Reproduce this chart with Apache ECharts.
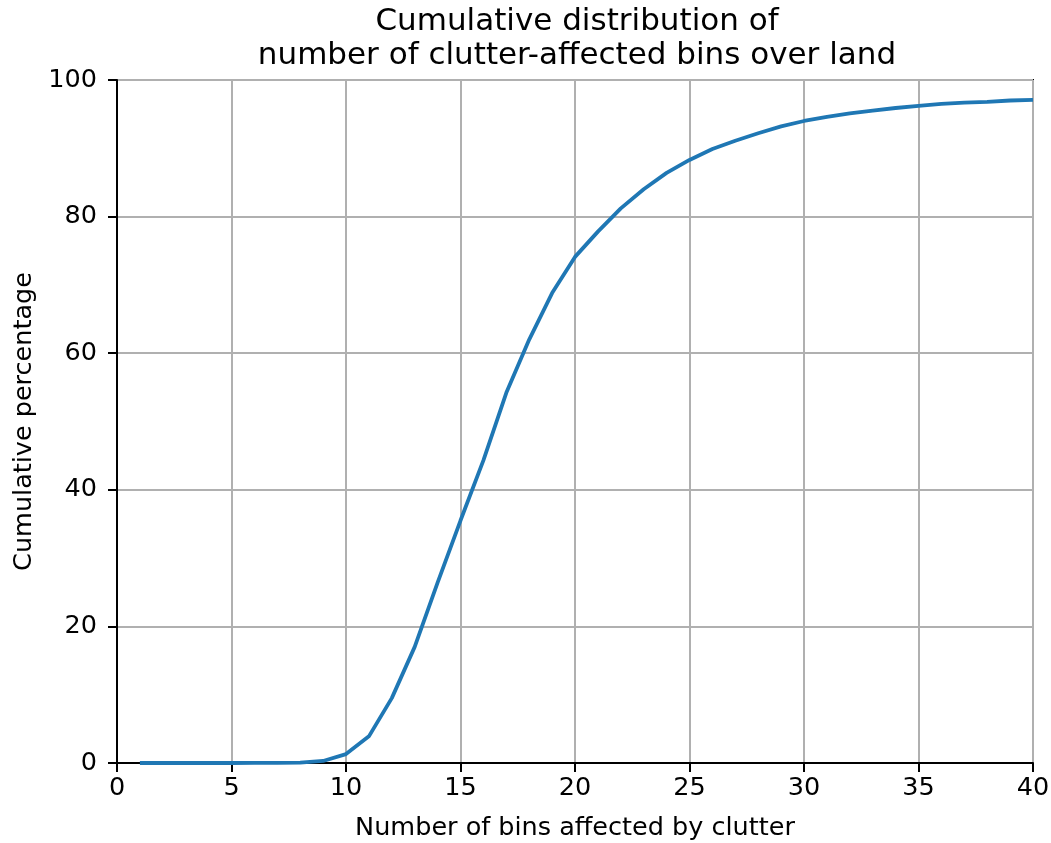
<!DOCTYPE html>
<html>
<head>
<meta charset="utf-8">
<script src="https://cdn.jsdelivr.net/npm/echarts@6/dist/echarts.min.js"></script>
<style>
  html, body { margin: 0; padding: 0; background: #fff; }
  #chart { width: 1051px; height: 843px; }
</style>
</head>
<body>
<div id="chart"></div>
<script>
// Number of clutter-affected bins (x) and cumulative percentage (y)
const binCounts = [1, 2, 3, 4, 5, 6, 7, 8, 9, 10,
                   11, 12, 13, 14, 15, 16, 17, 18, 19, 20,
                   21, 22, 23, 24, 25, 26, 27, 28, 29, 30,
                   31, 32, 33, 34, 35, 36, 37, 38, 39, 40];
const cumulativePct = [0, 0, 0, 0, 0, 0.01, 0.02, 0.05, 0.3, 1.3,
                       3.9, 9.5, 17.0, 26.4, 35.5, 44.3, 54.2, 62.0, 68.8, 74.1,
                       77.8, 81.2, 84.0, 86.4, 88.3, 89.9, 91.1, 92.2, 93.2, 94.0,
                       94.6, 95.1, 95.5, 95.9, 96.2, 96.5, 96.7, 96.8, 97.0, 97.1];
const xTicks = [0, 5, 10, 15, 20, 25, 30, 35, 40];
const yTicks = [0, 20, 40, 60, 80, 100];

const FONT = 'DejaVu Sans';
const LABEL_SIZE = 25.5;
const chart = echarts.init(document.getElementById('chart'), null, { renderer: 'canvas' });

const axisCommon = {
  axisLine: { show: true, lineStyle: { color: '#000', width: 2 } },
  axisTick: { show: true, inside: false, length: 9, lineStyle: { color: '#000', width: 2 } },
  splitLine: { show: true, lineStyle: { color: '#b0b0b0', width: 2 } },
  nameTextStyle: { fontFamily: FONT, fontSize: LABEL_SIZE, color: '#000' }
};

chart.setOption({
  backgroundColor: '#ffffff',
  animation: false,
  title: {
    text: 'Cumulative distribution of\nnumber of clutter-affected bins over land',
    left: 572,
    textAlign: 'center',
    top: 0,
    textStyle: { fontFamily: FONT, fontSize: 31, fontWeight: 'normal', color: '#000', lineHeight: 34 }
  },
  grid: {
    left: 117, right: 18, top: 80, bottom: 80,
    containLabel: false,
    outerBoundsMode: 'none',
    show: true, borderColor: '#000', borderWidth: 2, backgroundColor: 'transparent'
  },
  xAxis: Object.assign({}, axisCommon, {
    type: 'value',
    min: xTicks[0], max: xTicks[xTicks.length - 1], interval: 5,
    name: 'Number of bins affected by clutter',
    nameLocation: 'middle', nameGap: 52,
    axisLabel: { fontFamily: FONT, fontSize: LABEL_SIZE, color: '#000', margin: 12 }
  }),
  yAxis: Object.assign({}, axisCommon, {
    type: 'value',
    min: yTicks[0], max: yTicks[yTicks.length - 1], interval: 20,
    name: 'Cumulative percentage',
    nameLocation: 'middle', nameGap: 79,
    axisLabel: { fontFamily: FONT, fontSize: LABEL_SIZE, color: '#000', margin: 20 }
  }),
  series: [{
    type: 'line',
    data: binCounts.map((b, i) => [b, cumulativePct[i]]),
    showSymbol: false,
    symbol: 'none',
    lineStyle: { color: '#1f77b4', width: 3.8 },
    z: 5
  }]
});
</script>
</body>
</html>
